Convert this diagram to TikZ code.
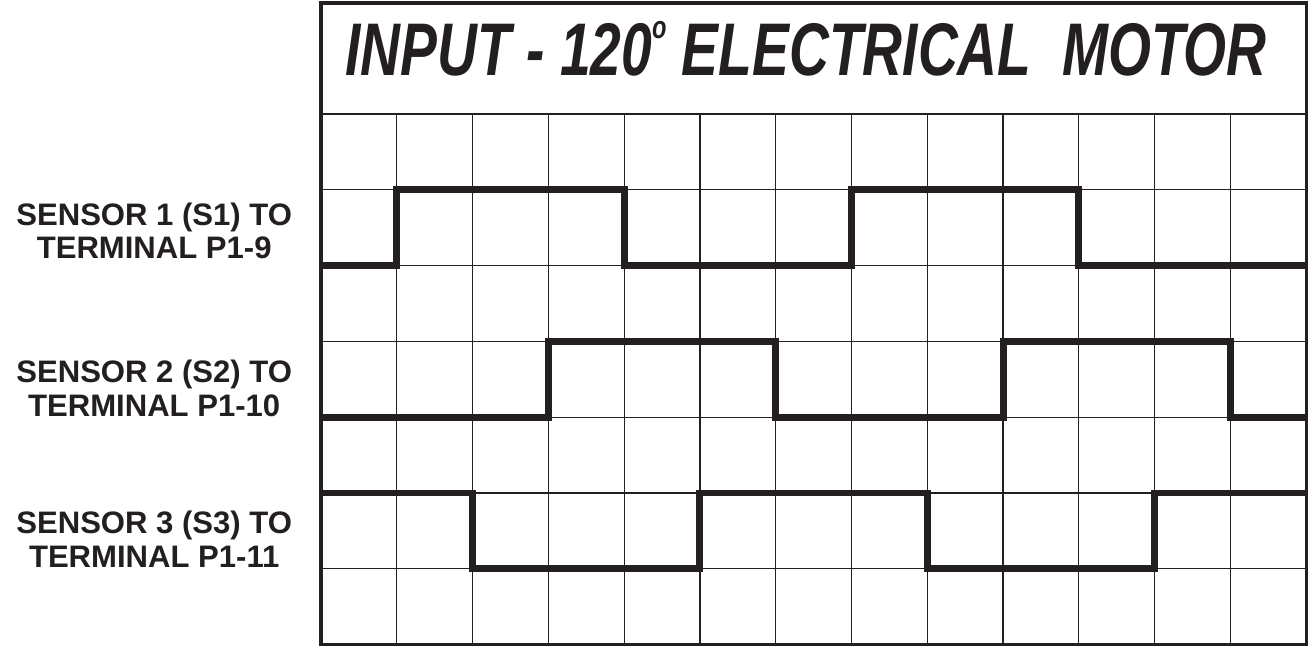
\documentclass[tikz,border=0pt]{standalone}
\usepackage{fontspec}
\setmainfont{Liberation Sans}
\newfontfamily\titlefont[FakeStretch=0.74]{Liberation Sans}
\usepackage{xcolor}
\usetikzlibrary{positioning}
\definecolor{inkblack}{RGB}{35,31,32}

\begin{document}
\begin{tikzpicture}[
      x=1.5cm, y=1.5cm,
      gridline/.style={draw=inkblack, line width=0.7pt},
      frame/.style={draw=inkblack, line width=1.9pt},
      wave/.style={draw=inkblack, line width=3.9pt, line join=miter},
      sensorlabel/.style={align=center, text=inkblack, inner sep=0pt,
        font=\bfseries\fontsize{17.5}{19}\selectfont},
      heading/.style={anchor=base, text=inkblack, inner sep=0pt,
        font=\titlefont\bfseries\itshape\fontsize{42}{42}\selectfont}
    ]
      \useasboundingbox (-4.235,-0.026) rectangle (13.05,8.505);

      % Grid: 13 columns x 7 rows
      \foreach \i in {1,...,12} \draw[gridline] (\i,0) -- (\i,7);
      \foreach \j in {1,...,6} \draw[gridline] (0,\j) -- (13,\j);

      % Outer frame and title band
      \draw[frame] (0,0) rectangle (13,8.465);
      \draw[draw=inkblack, line width=1.2pt] (0,7) -- (13,7);
      \node[heading] (title) at (6.4,7.51)
        {INPUT - 120\raisebox{21pt}{\fontsize{18}{18}\selectfont o} ELECTRICAL\ \ MOTOR};

      % Sensor waveforms
      \draw[wave] (0,5) -- (1,5) -- (1,6) -- (4,6) -- (4,5) -- (7,5) -- (7,6) -- (10,6) -- (10,5) -- (13,5);
      \draw[wave] (0,3) -- (3,3) -- (3,4) -- (6,4) -- (6,3) -- (9,3) -- (9,4) -- (12,4) -- (12,3) -- (13,3);
      \draw[wave] (0,2) -- (2,2) -- (2,1) -- (5,1) -- (5,2) -- (8,2) -- (8,1) -- (11,1) -- (11,2) -- (13,2);

      % Sensor labels
      \node[sensorlabel] (s1) at (-2.2,5.46) {SENSOR 1 (S1) TO\\TERMINAL P1-9};
      \node[sensorlabel] (s2) at (-2.2,3.38) {SENSOR 2 (S2) TO\\TERMINAL P1-10};
      \node[sensorlabel] (s3) at (-2.2,1.39) {SENSOR 3 (S3) TO\\TERMINAL P1-11};

    \end{tikzpicture}
\end{document}
